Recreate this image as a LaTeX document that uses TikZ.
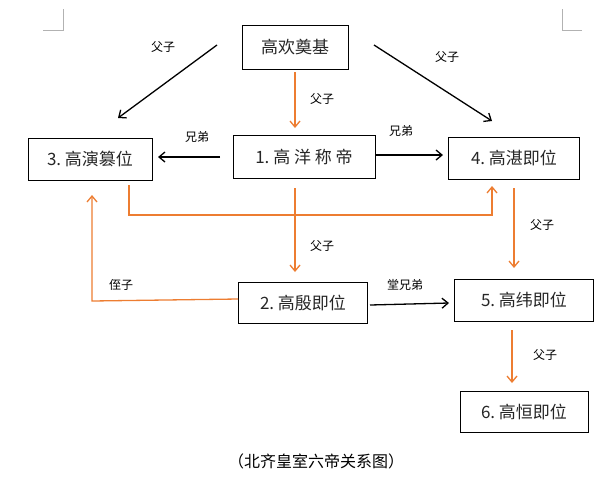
\documentclass[tikz,border=0pt]{standalone}
\usepackage{fontspec}
\setmainfont{Liberation Sans}
\newfontfamily\cjk{Noto Sans CJK SC}
\usetikzlibrary{arrows.meta}
\definecolor{org}{RGB}{237,125,49}
\begin{document}
\begin{tikzpicture}[x=1pt,y=-1pt,
 box/.style={draw,line width=1pt,inner sep=0pt,font=\cjk\fontsize{17}{19}\selectfont,text=black!85},
 lab/.style={font=\cjk\fontsize{12}{14}\selectfont},
 ba/.style={draw=black,line width=1.3pt,-{Straight Barb[length=6pt,width=10pt]}},
 oa/.style={draw=org,line width=1.3pt,-{Straight Barb[length=6pt,width=10pt]}},
 cornermark/.style={draw=black!30,line width=0.8pt}]
\useasboundingbox (0,0) rectangle (615,499);
\draw[cornermark] (43,30) -- (63,30) -- (63,9);
\draw[cornermark] (582,30) -- (562,30) -- (562,9);
\node[box,minimum width=106pt,minimum height=44pt] (g) at (295,47) {高欢奠基};
\node[box,minimum width=142pt,minimum height=43pt] (n1) at (304,157) {1.\ 高 洋 称 帝};
\node[box,minimum width=124pt,minimum height=42pt] (n3) at (90,159) {3.\ 高演篡位};
\node[box,minimum width=131pt,minimum height=42pt] (n4) at (514,158) {4.\ 高湛即位};
\node[box,minimum width=129pt,minimum height=41pt] (n2) at (303,303) {2.\ 高殷即位};
\node[box,minimum width=139pt,minimum height=42pt] (n5) at (524,300) {5.\ 高纬即位};
\node[box,minimum width=128pt,minimum height=41pt] (n6) at (524,412) {6.\ 高恒即位};
\coordinate (a1) at (217,45); \coordinate (a2) at (118,118);
\coordinate (b1) at (374,45); \coordinate (b2) at (492,121);
\draw[ba] (a1) -- (a2);
\draw[ba] (b1) -- (b2);
\draw[oa] (295,72) -- (295,128);
\draw[ba] (220,157) -- (158,157);
\draw[ba] (376,155) -- (443,155);
\draw[oa] (129,185) -- (129,215) -- (492,215) -- (492,186);
\draw[oa] (295,188) -- (295,272);
\draw[oa] (238,299) -- (92,301) -- (92,195);
\draw[ba] (370,305) -- (449,303);
\draw[oa] (514,188) -- (514,268);
\draw[oa] (512,330) -- (512,383);
\node[lab] (l1) at (163,47) {父子};
\node[lab] (l2) at (447,57) {父子};
\node[lab] (l3) at (322,99) {父子};
\node[lab] (l4) at (197,137) {兄弟};
\node[lab] (l5) at (401,131) {兄弟};
\node[lab] (l6) at (322,246) {父子};
\node[lab] (l7) at (121,285) {侄子};
\node[lab] (l8) at (405,285) {堂兄弟};
\node[lab] (l9) at (542,225) {父子};
\node[lab] (l10) at (545,355) {父子};
\node[font=\cjk\fontsize{16}{18}\selectfont] (cap) at (316,461) {（北齐皇室六帝关系图）};
\end{tikzpicture}
\end{document}
